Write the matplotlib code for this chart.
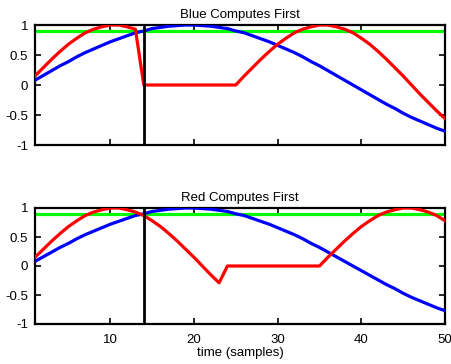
import matplotlib
matplotlib.use("Agg")
import matplotlib.pyplot as plt

plt.rcParams['font.family'] = ['Liberation Sans', 'DejaVu Sans']

samples = list(range(1, 51))

blue = [0.08, 0.16, 0.24, 0.32, 0.39, 0.47, 0.54, 0.60, 0.66, 0.72,
        0.77, 0.82, 0.87, 0.90, 0.94, 0.96, 0.98, 0.99, 1.00, 1.00,
        0.99, 0.98, 0.96, 0.94, 0.90, 0.87, 0.82, 0.77, 0.72, 0.66,
        0.60, 0.54, 0.47, 0.39, 0.32, 0.24, 0.16, 0.08, 0.00, -0.08,
        -0.16, -0.24, -0.32, -0.39, -0.47, -0.54, -0.60, -0.66, -0.72, -0.77]

red_top = [0.15, 0.29, 0.43, 0.56, 0.68, 0.78, 0.87, 0.93, 0.97, 1.00,
           1.00, 0.97, 0.93, 0.00, 0.00, 0.00, 0.00, 0.00, 0.00, 0.00,
           0.00, 0.00, 0.00, 0.00, 0.00, 0.15, 0.29, 0.43, 0.56, 0.68,
           0.78, 0.87, 0.93, 0.97, 1.00, 1.00, 0.97, 0.93, 0.87, 0.78,
           0.68, 0.56, 0.43, 0.29, 0.15, 0.00, -0.15, -0.29, -0.43, -0.56]

red_bottom = [0.15, 0.29, 0.43, 0.56, 0.68, 0.78, 0.87, 0.93, 0.97, 1.00,
              1.00, 0.97, 0.93, 0.87, 0.78, 0.68, 0.56, 0.43, 0.29, 0.15,
              0.00, -0.15, -0.29, 0.00, 0.00, 0.00, 0.00, 0.00, 0.00, 0.00,
              0.00, 0.00, 0.00, 0.00, 0.00, 0.15, 0.29, 0.43, 0.56, 0.68,
              0.78, 0.87, 0.93, 0.97, 1.00, 1.00, 0.97, 0.93, 0.87, 0.78]

threshold = 0.9
event_sample = 14
titles = ["Blue Computes First", "Red Computes First"]
xticks = [10, 20, 30, 40, 50]
yticks = [-1, -0.5, 0, 0.5, 1]
ytick_labels = ["-1", "-0.5", "0", "0.5", "1"]

W, H = 451, 364
fig = plt.figure(figsize=(W / 100, H / 100), dpi=100)

def box(l, r, t, b):
    return [l / W, 1 - b / H, (r - l) / W, (b - t) / H]

ax1 = fig.add_axes(box(35, 445, 25, 145))
ax2 = fig.add_axes(box(35, 445, 208, 324))

for ax, red, title, show_x in [(ax1, red_top, titles[0], False),
                                (ax2, red_bottom, titles[1], True)]:
    ax.axhline(threshold, color=(0, 1, 0), lw=2.3, zorder=2)
    ax.plot(samples, blue, color=(0, 0, 1), lw=2.3, zorder=3)
    ax.plot(samples, red, color=(1, 0, 0), lw=2.3, zorder=4)
    ax.axvline(event_sample, color='black', lw=2.0, zorder=5)
    ax.set_xlim(1, 50)
    ax.set_ylim(-1, 1)
    ax.set_xticks(xticks)
    ax.set_yticks(yticks)
    ax.set_yticklabels(ytick_labels)
    if not show_x:
        ax.set_xticklabels([])
    ax.tick_params(direction='in', top=True, right=True, length=4,
                   width=1.2, labelsize=9.5)
    ax.tick_params(axis='x', pad=7)
    ax.tick_params(axis='y', pad=5)
    for s in ax.spines.values():
        s.set_linewidth(1.6)
    ax.set_title(title, fontsize=9.5, pad=5)

ax2.set_xlabel("time (samples)", fontsize=9.5, labelpad=1)

fig.savefig("out.png", dpi=100)
